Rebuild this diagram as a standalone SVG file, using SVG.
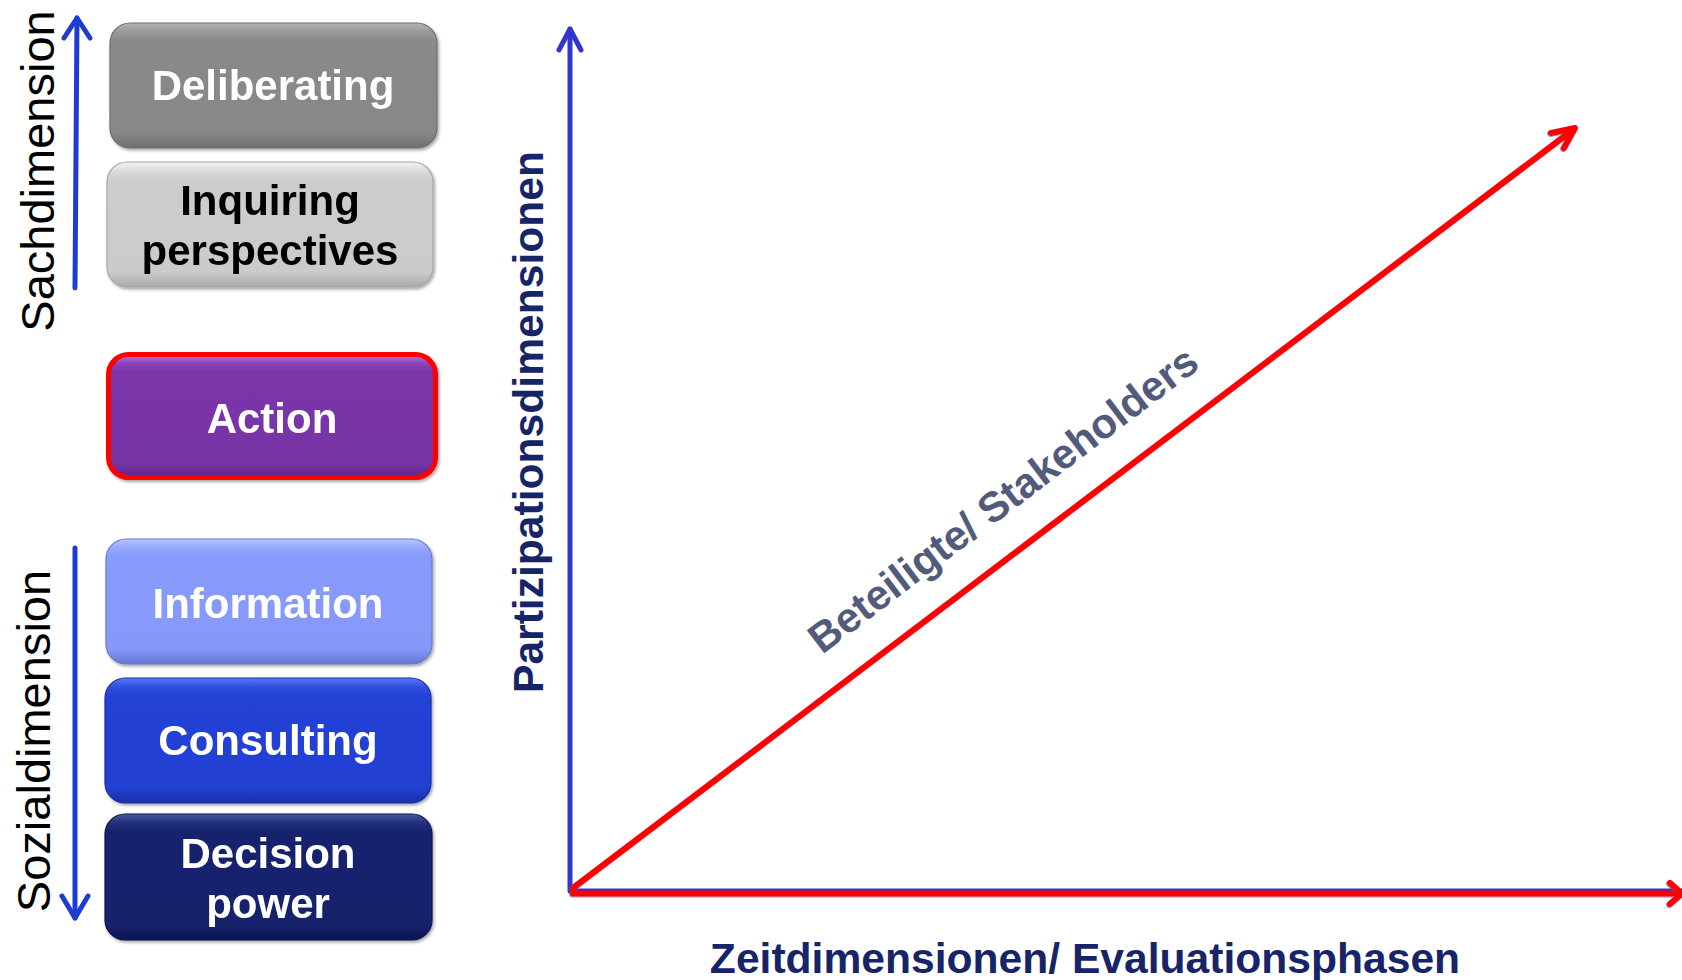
<svg xmlns="http://www.w3.org/2000/svg" width="1682" height="980" viewBox="0 0 1682 980">
  <defs>
    <style>
      .lbl { font-family: "Liberation Sans", Arial, sans-serif; font-weight: bold; font-size: 42px; text-anchor: middle; }
      .dim { font-family: "Liberation Sans", Arial, sans-serif; font-size: 47px; fill: #000; text-anchor: middle; }
      .axis-title { font-family: "Liberation Sans", Arial, sans-serif; font-weight: bold; font-size: 42.6px; fill: #172568; text-anchor: middle; }
      .blue-arrow { stroke: #1F3CD2; stroke-width: 5; fill: none; stroke-linecap: round; stroke-linejoin: round; }
      .axis { stroke: #3434CE; stroke-width: 5; fill: none; stroke-linecap: round; stroke-linejoin: round; }
      .red { stroke: #FF0000; stroke-width: 6; fill: none; stroke-linecap: round; stroke-linejoin: round; }
      .box { filter: url(#shadow); }
    </style>
    <filter id="shadow" x="-10%" y="-10%" width="120%" height="130%">
      <feDropShadow dx="1.5" dy="2" stdDeviation="1.5" flood-color="#000" flood-opacity="0.35"/>
    </filter>
    <filter id="lineShadow" x="-5%" y="-5%" width="110%" height="110%">
      <feDropShadow dx="-0.8" dy="0.8" stdDeviation="0.6" flood-color="#3a4470" flood-opacity="0.7"/>
    </filter>
    <linearGradient id="gDelib" x1="0" y1="0" x2="0" y2="1">
      <stop offset="0" stop-color="#b4b4b4"/>
      <stop offset="0.07" stop-color="#999"/>
      <stop offset="0.14" stop-color="#8a8a8a"/>
      <stop offset="0.88" stop-color="#878787"/>
      <stop offset="1" stop-color="#6e6e6e"/>
    </linearGradient>
    <linearGradient id="gInq" x1="0" y1="0" x2="0" y2="1">
      <stop offset="0" stop-color="#f2f2f2"/>
      <stop offset="0.07" stop-color="#dcdcdc"/>
      <stop offset="0.14" stop-color="#cdcdcd"/>
      <stop offset="0.88" stop-color="#cbcbcb"/>
      <stop offset="1" stop-color="#a9a9a9"/>
    </linearGradient>
    <linearGradient id="gAct" x1="0" y1="0" x2="0" y2="1">
      <stop offset="0" stop-color="#c57ae6"/>
      <stop offset="0.07" stop-color="#8c44b8"/>
      <stop offset="0.14" stop-color="#7a35a8"/>
      <stop offset="0.88" stop-color="#7834a6"/>
      <stop offset="1" stop-color="#5e2488"/>
    </linearGradient>
    <linearGradient id="gInfo" x1="0" y1="0" x2="0" y2="1">
      <stop offset="0" stop-color="#b8c4ff"/>
      <stop offset="0.07" stop-color="#98a8fc"/>
      <stop offset="0.14" stop-color="#889afb"/>
      <stop offset="0.88" stop-color="#8698f8"/>
      <stop offset="1" stop-color="#6676d4"/>
    </linearGradient>
    <linearGradient id="gCons" x1="0" y1="0" x2="0" y2="1">
      <stop offset="0" stop-color="#5a78f0"/>
      <stop offset="0.07" stop-color="#3050e0"/>
      <stop offset="0.14" stop-color="#2442d6"/>
      <stop offset="0.88" stop-color="#2340d2"/>
      <stop offset="1" stop-color="#1a2fa8"/>
    </linearGradient>
    <linearGradient id="gDec" x1="0" y1="0" x2="0" y2="1">
      <stop offset="0" stop-color="#4a5aa0"/>
      <stop offset="0.07" stop-color="#22317e"/>
      <stop offset="0.14" stop-color="#16246e"/>
      <stop offset="0.88" stop-color="#15236c"/>
      <stop offset="1" stop-color="#0d1650"/>
    </linearGradient>
  </defs>

  <rect width="1682" height="980" fill="#fff"/>

  <!-- left column: dimension stack -->
  <g id="deliberating" class="box">
    <rect x="110" y="23" width="327" height="125" rx="20" fill="url(#gDelib)" stroke="#6f6f6f" stroke-width="1.2"/>
    <text class="lbl" x="273" y="100" fill="#fff">Deliberating</text>
  </g>
  <g id="inquiring" class="box">
    <rect x="107" y="162" width="326" height="125" rx="20" fill="url(#gInq)" stroke="#a5a5a5" stroke-width="1.2"/>
    <text class="lbl" x="270" y="215" fill="#000">Inquiring</text>
    <text class="lbl" x="270" y="265" fill="#000">perspectives</text>
  </g>
  <g id="action" class="box">
    <rect x="108.5" y="354.5" width="327" height="123" rx="20" fill="url(#gAct)" stroke="#FF0000" stroke-width="5"/>
    <text class="lbl" x="272" y="433" fill="#fff">Action</text>
  </g>
  <g id="information" class="box">
    <rect x="106" y="539" width="326" height="125" rx="20" fill="url(#gInfo)" stroke="#6a79cc" stroke-width="1.2"/>
    <text class="lbl" x="268" y="618" fill="#fff">Information</text>
  </g>
  <g id="consulting" class="box">
    <rect x="105" y="678" width="326" height="125" rx="20" fill="url(#gCons)" stroke="#1a30a0" stroke-width="1.2"/>
    <text class="lbl" x="268" y="755" fill="#fff">Consulting</text>
  </g>
  <g id="decision-power" class="box">
    <rect x="105" y="814" width="327" height="126" rx="20" fill="url(#gDec)" stroke="#0c1448" stroke-width="1.2"/>
    <text class="lbl" x="268" y="868" fill="#fff">Decision</text>
    <text class="lbl" x="268" y="918" fill="#fff">power</text>
  </g>

  <!-- side dimension labels -->
  <g id="sachdimension">
    <text class="dim" transform="translate(54,171) rotate(-90)">Sachdimension</text>
  </g>
  <g id="sozialdimension">
    <text class="dim" transform="translate(50,741) rotate(-90)">Sozialdimension</text>
  </g>

  <!-- axis titles -->
  <g id="partizipation">
    <text class="axis-title" transform="translate(543,422) rotate(-90)">Partizipationsdimensionen</text>
  </g>
  <g id="zeit">
    <text class="axis-title" x="1085" y="973">Zeitdimensionen/ Evaluationsphasen</text>
  </g>
  <g id="stakeholders">
    <text transform="translate(822,655) rotate(-37.2)" font-family="Liberation Sans, Arial, sans-serif" font-weight="bold" font-size="42" fill="#535B7C">Beteiligte/ Stakeholders</text>
  </g>

  <!-- connectors -->
  <g id="connectors">
    <!-- Sachdimension arrow (up) -->
    <path class="blue-arrow" d="M75 288 L77 18"/>
    <path class="blue-arrow" d="M64 38 L77 18 L90 38"/>
    <!-- Sozialdimension arrow (down) -->
    <path class="blue-arrow" d="M75 548 L75 918"/>
    <path class="blue-arrow" d="M62 896 L75 918 L88 896"/>
    <!-- vertical axis -->
    <path class="axis" d="M570 889 L570 29"/>
    <path class="axis" d="M559 50 L570 29 L581 50"/>
    <!-- horizontal axis -->
    <path class="axis" d="M570 891 L1682 891"/>
    <g filter="url(#lineShadow)">
      <path class="red" d="M573 893.5 L1680 893.5"/>
      <path class="red" d="M1670 883 L1682 893.5 L1670 904"/>
      <!-- diagonal stakeholder arrow -->
      <path class="red" d="M573 888 L1574 129"/>
      <path class="red" d="M1551 133 L1575 128 L1564 148"/>
    </g>
  </g>
</svg>
